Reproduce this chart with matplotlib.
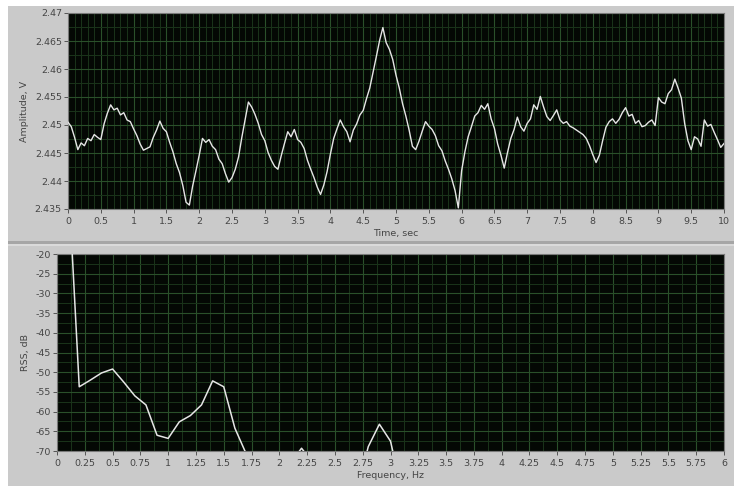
import numpy as np
import matplotlib
matplotlib.use("Agg")
import matplotlib.pyplot as plt
from matplotlib.patches import Rectangle
from matplotlib.ticker import MultipleLocator

# ---- time-domain record (10 s) ----
time_step = 0.05
amplitude_v = [
    2.4505, 2.4497, 2.4478, 2.4456, 2.4468, 2.4463, 2.4476, 2.4472, 2.4483, 2.4478,
    2.4474, 2.4502, 2.4521, 2.4536, 2.4527, 2.4530, 2.4518, 2.4522, 2.4509, 2.4506,
    2.4493, 2.4481, 2.4466, 2.4455, 2.4458, 2.4461, 2.4478, 2.4491, 2.4507, 2.4494,
    2.4488, 2.4469, 2.4452, 2.4431, 2.4415, 2.4392, 2.4362, 2.4357, 2.4391, 2.4418,
    2.4446, 2.4476, 2.4469, 2.4474, 2.4462, 2.4456, 2.4439, 2.4431, 2.4413, 2.4398,
    2.4406, 2.4421, 2.4443, 2.4478, 2.4509, 2.4541, 2.4532, 2.4519, 2.4503, 2.4483,
    2.4472, 2.4451, 2.4437, 2.4426, 2.4421, 2.4445, 2.4467, 2.4488, 2.4479, 2.4492,
    2.4474, 2.4469, 2.4458, 2.4437, 2.4421, 2.4406, 2.4389, 2.4376, 2.4393, 2.4417,
    2.4448, 2.4476, 2.4493, 2.4509, 2.4497, 2.4488, 2.4470, 2.4491, 2.4502, 2.4518,
    2.4526, 2.4547, 2.4566, 2.4594, 2.4622, 2.4651, 2.4674, 2.4647, 2.4635, 2.4617,
    2.4589, 2.4566, 2.4538, 2.4516, 2.4491, 2.4462, 2.4456, 2.4471, 2.4489, 2.4506,
    2.4498, 2.4492, 2.4481, 2.4463, 2.4454, 2.4436, 2.4421, 2.4404, 2.4383, 2.4352,
    2.4418, 2.4452, 2.4479, 2.4497, 2.4516, 2.4522, 2.4535, 2.4528, 2.4538, 2.4511,
    2.4494, 2.4466, 2.4446, 2.4423, 2.4451, 2.4476, 2.4492, 2.4514, 2.4497, 2.4489,
    2.4503, 2.4511, 2.4536, 2.4528, 2.4551, 2.4532, 2.4515, 2.4508, 2.4517, 2.4527,
    2.4509, 2.4503, 2.4506, 2.4498, 2.4495, 2.4491, 2.4487, 2.4483, 2.4476, 2.4463,
    2.4447, 2.4433, 2.4446, 2.4472, 2.4496, 2.4506, 2.4511, 2.4503, 2.4510, 2.4522,
    2.4531, 2.4516, 2.4519, 2.4503, 2.4508, 2.4497, 2.4499, 2.4505, 2.4509, 2.4499,
    2.4549, 2.4541, 2.4538, 2.4556, 2.4563, 2.4582, 2.4566, 2.4548, 2.4503, 2.4472,
    2.4456, 2.4479, 2.4475, 2.4462, 2.4509, 2.4498, 2.4501, 2.4487, 2.4474, 2.4460,
    2.4467,
]

# ---- spectrum, 0.1 Hz bins from 0 to 6 Hz ----
freq_step = 0.1
rss_db = [
    5.0, 0.0, -53.7, -52.0, -50.2, -49.2, -52.5, -56.0, -58.3, -66.0,
    -66.8, -62.6, -61.0, -58.3, -52.2, -53.7, -64.2, -70.6, -74.0, -78.0,
    -76.0, -73.0, -69.3, -73.0, -79.0, -82.0, -84.0, -80.0, -68.9, -63.2,
    -67.5, -80.0, -85.0, -88.0, -86.0, -90.0, -87.0, -89.0, -92.0, -88.0,
    -90.0, -93.0, -91.0, -89.0, -94.0, -92.0, -90.0, -93.0, -95.0, -91.0,
    -94.0, -96.0, -92.0, -95.0, -97.0, -94.0, -96.0, -98.0, -95.0, -97.0,
    -99.0,
]

time_ticks = [0, 0.5, 1, 1.5, 2, 2.5, 3, 3.5, 4, 4.5, 5, 5.5, 6, 6.5, 7, 7.5, 8, 8.5, 9, 9.5, 10]
time_tick_labels = ["0", "0.5", "1", "1.5", "2", "2.5", "3", "3.5", "4", "4.5", "5",
                    "5.5", "6", "6.5", "7", "7.5", "8", "8.5", "9", "9.5", "10"]
amp_ticks = [2.435, 2.44, 2.445, 2.45, 2.455, 2.46, 2.465, 2.47]
amp_tick_labels = ["2.435", "2.44", "2.445", "2.45", "2.455", "2.46", "2.465", "2.47"]
freq_ticks = [0, 0.25, 0.5, 0.75, 1, 1.25, 1.5, 1.75, 2, 2.25, 2.5, 2.75, 3, 3.25, 3.5,
              3.75, 4, 4.25, 4.5, 4.75, 5, 5.25, 5.5, 5.75, 6]
freq_tick_labels = ["0", "0.25", "0.5", "0.75", "1", "1.25", "1.5", "1.75", "2", "2.25",
                    "2.5", "2.75", "3", "3.25", "3.5", "3.75", "4", "4.25", "4.5", "4.75",
                    "5", "5.25", "5.5", "5.75", "6"]
db_ticks = [-70, -65, -60, -55, -50, -45, -40, -35, -30, -25, -20]
db_tick_labels = ["-70", "-65", "-60", "-55", "-50", "-45", "-40", "-35", "-30", "-25", "-20"]

t = np.arange(len(amplitude_v)) * time_step
f = np.arange(len(rss_db)) * freq_step

W, H = 734, 486
fig = plt.figure(figsize=(W / 100, H / 100), dpi=100, facecolor="white")

PANEL = "#cacaca"
TXT = "#454545"


def px_rect(x0, y0, x1, y1, color):
    fig.patches.append(Rectangle((x0 / W, 1 - y1 / H), (x1 - x0) / W, (y1 - y0) / H,
                                 transform=fig.transFigure, figure=fig, zorder=-10,
                                 facecolor=color, edgecolor="none"))


# front-panel frames behind the two graphs
px_rect(8, 6, 734, 486, PANEL)
px_rect(8, 241, 734, 244, "#a6a6a6")
px_rect(8, 244, 734, 246, "#dadada")


def px_axes(x0, y0, x1, y1):
    ax = fig.add_axes([x0 / W, 1 - y1 / H, (x1 - x0) / W, (y1 - y0) / H])
    ax.set_zorder(1)
    return ax


def style(ax, minor_x, minor_y):
    ax.set_facecolor("#040804")
    for s in ax.spines.values():
        s.set_color("#7a7a7a")
        s.set_linewidth(0.8)
    ax.xaxis.set_minor_locator(MultipleLocator(minor_x))
    ax.yaxis.set_minor_locator(MultipleLocator(minor_y))
    ax.grid(which="major", color="#2a502a", linewidth=0.8)
    ax.grid(which="minor", color="#1a341a", linewidth=0.7)
    ax.set_axisbelow(True)
    ax.tick_params(which="major", direction="out", length=3.2, width=0.7,
                   color="#555555", labelsize=6.8, labelcolor=TXT, pad=1.2)
    ax.tick_params(axis="x", which="major", pad=2.5)
    ax.tick_params(which="minor", length=0)


# ---- amplitude vs time ----
ax1 = px_axes(68, 13, 724, 209)
ax1.plot(t, amplitude_v, color="#e6e6e6", linewidth=1.0, zorder=3)
ax1.set_xlim(0, 10)
ax1.set_ylim(2.435, 2.47)
ax1.set_xticks(time_ticks)
ax1.set_xticklabels(time_tick_labels)
ax1.set_yticks(amp_ticks)
ax1.set_yticklabels(amp_tick_labels)
style(ax1, 0.1, 0.0025)
ax1.set_xlabel("Time, sec", fontsize=6.8, color=TXT, labelpad=2)
ax1.set_ylabel("Amplitude, V", fontsize=6.8, color=TXT, labelpad=4)

# ---- spectrum ----
ax2 = px_axes(57, 254, 724, 451)
ax2.plot(f, rss_db, color="#e6e6e6", linewidth=1.1, zorder=3)
ax2.set_xlim(0, 6)
ax2.set_ylim(-70, -20)
ax2.set_xticks(freq_ticks)
ax2.set_xticklabels(freq_tick_labels)
ax2.set_yticks(db_ticks)
ax2.set_yticklabels(db_tick_labels)
style(ax2, 0.125, 2.5)
ax2.set_xlabel("Frequency, Hz", fontsize=6.8, color=TXT, labelpad=2)
ax2.set_ylabel("RSS, dB", fontsize=6.8, color=TXT, labelpad=4)

fig.savefig("out.png", dpi=100, facecolor=fig.get_facecolor())
